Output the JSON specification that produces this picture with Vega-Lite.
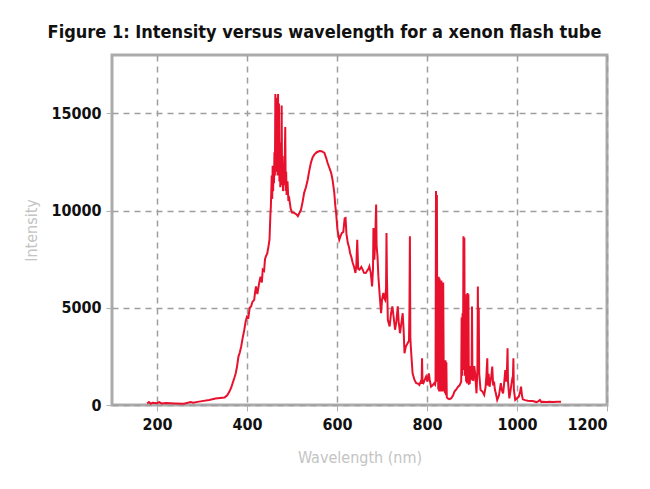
{
  "$schema": "https://vega.github.io/schema/vega-lite/v6.json",
  "width": 495,
  "height": 350,
  "autosize": {"type": "none"},
  "padding": {"left": 112, "top": 55, "right": 43, "bottom": 84},
  "background": "white",
  "title": {
    "text": "Figure 1: Intensity versus wavelength for a xenon flash tube",
    "anchor": "middle",
    "dx": -35,
    "offset": 13,
    "font": "DejaVu Sans Condensed, Roboto",
    "fontWeight": "bold",
    "fontSize": 18,
    "color": "#111111"
  },
  "data": {
    "values": [
      {"wavelength": 178, "intensity": 80}, {"wavelength": 182, "intensity": 150}, {"wavelength": 186, "intensity": 60},
      {"wavelength": 190, "intensity": 120}, {"wavelength": 200, "intensity": 90}, {"wavelength": 205, "intensity": 150},
      {"wavelength": 210, "intensity": 80}, {"wavelength": 220, "intensity": 100}, {"wavelength": 240, "intensity": 80},
      {"wavelength": 260, "intensity": 60}, {"wavelength": 275, "intensity": 150}, {"wavelength": 280, "intensity": 120},
      {"wavelength": 290, "intensity": 160}, {"wavelength": 300, "intensity": 200}, {"wavelength": 316, "intensity": 260},
      {"wavelength": 330, "intensity": 330}, {"wavelength": 350, "intensity": 380}, {"wavelength": 356, "intensity": 500},
      {"wavelength": 361, "intensity": 690}, {"wavelength": 365, "intensity": 900}, {"wavelength": 368, "intensity": 1120},
      {"wavelength": 372, "intensity": 1400}, {"wavelength": 375, "intensity": 1630}, {"wavelength": 378, "intensity": 2000},
      {"wavelength": 381, "intensity": 2490}, {"wavelength": 384, "intensity": 2700}, {"wavelength": 387, "intensity": 3000},
      {"wavelength": 390, "intensity": 3400}, {"wavelength": 394, "intensity": 3870}, {"wavelength": 397, "intensity": 4300},
      {"wavelength": 400, "intensity": 4550}, {"wavelength": 403, "intensity": 4500}, {"wavelength": 406, "intensity": 5000},
      {"wavelength": 409, "intensity": 5070}, {"wavelength": 412, "intensity": 5300}, {"wavelength": 416, "intensity": 5410},
      {"wavelength": 418, "intensity": 5800}, {"wavelength": 420, "intensity": 6100}, {"wavelength": 423, "intensity": 5700},
      {"wavelength": 427, "intensity": 6270}, {"wavelength": 430, "intensity": 6600}, {"wavelength": 433, "intensity": 6300},
      {"wavelength": 435, "intensity": 6960}, {"wavelength": 438, "intensity": 6900}, {"wavelength": 440, "intensity": 7500},
      {"wavelength": 442, "intensity": 7650}, {"wavelength": 445, "intensity": 7800}, {"wavelength": 448, "intensity": 8200},
      {"wavelength": 450, "intensity": 8500}, {"wavelength": 452, "intensity": 9800}, {"wavelength": 453, "intensity": 10200},
      {"wavelength": 455, "intensity": 11800}, {"wavelength": 456, "intensity": 10600}, {"wavelength": 457, "intensity": 12300},
      {"wavelength": 458, "intensity": 11000}, {"wavelength": 459, "intensity": 12100}, {"wavelength": 460, "intensity": 11400},
      {"wavelength": 461, "intensity": 13000}, {"wavelength": 462, "intensity": 11800}, {"wavelength": 463, "intensity": 16000},
      {"wavelength": 464, "intensity": 12200}, {"wavelength": 465, "intensity": 15800}, {"wavelength": 466, "intensity": 12000},
      {"wavelength": 467, "intensity": 14000}, {"wavelength": 468, "intensity": 11800}, {"wavelength": 469, "intensity": 16000},
      {"wavelength": 470, "intensity": 12400}, {"wavelength": 471, "intensity": 15500}, {"wavelength": 472, "intensity": 11500},
      {"wavelength": 473, "intensity": 13500}, {"wavelength": 474, "intensity": 11200}, {"wavelength": 475, "intensity": 12600},
      {"wavelength": 476, "intensity": 11400}, {"wavelength": 477, "intensity": 15400}, {"wavelength": 478, "intensity": 11300},
      {"wavelength": 479, "intensity": 12800}, {"wavelength": 480, "intensity": 11000}, {"wavelength": 481, "intensity": 12200},
      {"wavelength": 483, "intensity": 11300}, {"wavelength": 485, "intensity": 14300}, {"wavelength": 486, "intensity": 11000},
      {"wavelength": 487, "intensity": 12000}, {"wavelength": 488, "intensity": 10800}, {"wavelength": 490, "intensity": 11500},
      {"wavelength": 492, "intensity": 10500}, {"wavelength": 494, "intensity": 10600}, {"wavelength": 497, "intensity": 10100},
      {"wavelength": 500, "intensity": 9900}, {"wavelength": 505, "intensity": 9880}, {"wavelength": 510, "intensity": 9800},
      {"wavelength": 513, "intensity": 9710}, {"wavelength": 517, "intensity": 9900}, {"wavelength": 520, "intensity": 10050},
      {"wavelength": 524, "intensity": 10500}, {"wavelength": 527, "intensity": 10910}, {"wavelength": 531, "intensity": 11200},
      {"wavelength": 535, "intensity": 11600}, {"wavelength": 538, "intensity": 12000}, {"wavelength": 542, "intensity": 12460},
      {"wavelength": 546, "intensity": 12750}, {"wavelength": 550, "intensity": 12890}, {"wavelength": 555, "intensity": 13000},
      {"wavelength": 561, "intensity": 13060}, {"wavelength": 566, "intensity": 13050}, {"wavelength": 572, "intensity": 12970},
      {"wavelength": 576, "intensity": 12700}, {"wavelength": 579, "intensity": 12460}, {"wavelength": 583, "intensity": 12200},
      {"wavelength": 587, "intensity": 11940}, {"wavelength": 590, "intensity": 11600}, {"wavelength": 594, "intensity": 10910},
      {"wavelength": 596, "intensity": 10300}, {"wavelength": 598, "intensity": 9880}, {"wavelength": 601, "intensity": 9020},
      {"wavelength": 605, "intensity": 8500}, {"wavelength": 608, "intensity": 8700}, {"wavelength": 611, "intensity": 8850},
      {"wavelength": 614, "intensity": 8900}, {"wavelength": 617, "intensity": 9600}, {"wavelength": 619, "intensity": 9620},
      {"wavelength": 621, "intensity": 8800}, {"wavelength": 624, "intensity": 8330}, {"wavelength": 627, "intensity": 8100},
      {"wavelength": 629, "intensity": 7820}, {"wavelength": 632, "intensity": 7600}, {"wavelength": 635, "intensity": 7300},
      {"wavelength": 638, "intensity": 7100}, {"wavelength": 641, "intensity": 6790}, {"wavelength": 643, "intensity": 7200},
      {"wavelength": 645, "intensity": 8500}, {"wavelength": 647, "intensity": 7000}, {"wavelength": 650, "intensity": 6960},
      {"wavelength": 654, "intensity": 7100}, {"wavelength": 657, "intensity": 6960}, {"wavelength": 660, "intensity": 6800},
      {"wavelength": 664, "intensity": 6790}, {"wavelength": 667, "intensity": 6900}, {"wavelength": 670, "intensity": 7000},
      {"wavelength": 672, "intensity": 7130}, {"wavelength": 675, "intensity": 6800}, {"wavelength": 678, "intensity": 6100},
      {"wavelength": 680, "intensity": 7000}, {"wavelength": 681, "intensity": 9100}, {"wavelength": 682, "intensity": 8000},
      {"wavelength": 683, "intensity": 7470}, {"wavelength": 685, "intensity": 8500}, {"wavelength": 686, "intensity": 9500},
      {"wavelength": 687, "intensity": 10310}, {"wavelength": 688, "intensity": 8200}, {"wavelength": 690, "intensity": 7650},
      {"wavelength": 692, "intensity": 6600}, {"wavelength": 694, "intensity": 5930}, {"wavelength": 696, "intensity": 5300},
      {"wavelength": 698, "intensity": 4720}, {"wavelength": 700, "intensity": 5400}, {"wavelength": 703, "intensity": 5760},
      {"wavelength": 705, "intensity": 5500}, {"wavelength": 707, "intensity": 5410}, {"wavelength": 709, "intensity": 6000},
      {"wavelength": 710, "intensity": 8850}, {"wavelength": 711, "intensity": 6500}, {"wavelength": 713, "intensity": 4380},
      {"wavelength": 715, "intensity": 4200}, {"wavelength": 717, "intensity": 4040}, {"wavelength": 720, "intensity": 4700},
      {"wavelength": 723, "intensity": 5070}, {"wavelength": 726, "intensity": 4500}, {"wavelength": 729, "intensity": 3870},
      {"wavelength": 732, "intensity": 4300}, {"wavelength": 735, "intensity": 5070}, {"wavelength": 737, "intensity": 4300},
      {"wavelength": 740, "intensity": 3690}, {"wavelength": 743, "intensity": 4200}, {"wavelength": 746, "intensity": 4720},
      {"wavelength": 748, "intensity": 3900}, {"wavelength": 750, "intensity": 2660}, {"wavelength": 753, "intensity": 3000},
      {"wavelength": 757, "intensity": 3180}, {"wavelength": 760, "intensity": 3300}, {"wavelength": 761, "intensity": 5000},
      {"wavelength": 762, "intensity": 8680}, {"wavelength": 763, "intensity": 3500}, {"wavelength": 764, "intensity": 3010},
      {"wavelength": 766, "intensity": 2300}, {"wavelength": 768, "intensity": 1630}, {"wavelength": 772, "intensity": 1300},
      {"wavelength": 776, "intensity": 1120}, {"wavelength": 780, "intensity": 1100}, {"wavelength": 783, "intensity": 1030},
      {"wavelength": 786, "intensity": 1200}, {"wavelength": 788, "intensity": 1100}, {"wavelength": 789, "intensity": 2400},
      {"wavelength": 790, "intensity": 1150}, {"wavelength": 792, "intensity": 1120}, {"wavelength": 795, "intensity": 1300},
      {"wavelength": 798, "intensity": 1460}, {"wavelength": 801, "intensity": 1200}, {"wavelength": 804, "intensity": 1630},
      {"wavelength": 806, "intensity": 1300}, {"wavelength": 809, "intensity": 940}, {"wavelength": 812, "intensity": 1000},
      {"wavelength": 816, "intensity": 1120}, {"wavelength": 818, "intensity": 1050}, {"wavelength": 819, "intensity": 1200},
      {"wavelength": 820, "intensity": 11000}, {"wavelength": 821, "intensity": 1500}, {"wavelength": 822, "intensity": 10800},
      {"wavelength": 823, "intensity": 1200}, {"wavelength": 824, "intensity": 6600}, {"wavelength": 825, "intensity": 800},
      {"wavelength": 826, "intensity": 6600}, {"wavelength": 827, "intensity": 700}, {"wavelength": 828, "intensity": 6500},
      {"wavelength": 829, "intensity": 800}, {"wavelength": 830, "intensity": 6400}, {"wavelength": 831, "intensity": 700},
      {"wavelength": 832, "intensity": 6400}, {"wavelength": 833, "intensity": 700}, {"wavelength": 834, "intensity": 6300},
      {"wavelength": 835, "intensity": 700}, {"wavelength": 836, "intensity": 6300}, {"wavelength": 837, "intensity": 2300},
      {"wavelength": 838, "intensity": 700}, {"wavelength": 839, "intensity": 2300}, {"wavelength": 840, "intensity": 600},
      {"wavelength": 841, "intensity": 2300}, {"wavelength": 842, "intensity": 500}, {"wavelength": 843, "intensity": 2200},
      {"wavelength": 844, "intensity": 400}, {"wavelength": 846, "intensity": 340}, {"wavelength": 850, "intensity": 300},
      {"wavelength": 854, "intensity": 350}, {"wavelength": 858, "intensity": 500}, {"wavelength": 861, "intensity": 690},
      {"wavelength": 865, "intensity": 800}, {"wavelength": 869, "intensity": 940}, {"wavelength": 872, "intensity": 1000},
      {"wavelength": 876, "intensity": 1200}, {"wavelength": 877, "intensity": 4500}, {"wavelength": 878, "intensity": 1500},
      {"wavelength": 879, "intensity": 4720}, {"wavelength": 880, "intensity": 1800}, {"wavelength": 881, "intensity": 8680},
      {"wavelength": 882, "intensity": 2000}, {"wavelength": 883, "intensity": 8600}, {"wavelength": 884, "intensity": 1500},
      {"wavelength": 885, "intensity": 2320}, {"wavelength": 887, "intensity": 1200}, {"wavelength": 888, "intensity": 5700},
      {"wavelength": 889, "intensity": 1100}, {"wavelength": 890, "intensity": 5760}, {"wavelength": 891, "intensity": 1200},
      {"wavelength": 892, "intensity": 5700}, {"wavelength": 893, "intensity": 1100}, {"wavelength": 895, "intensity": 1120},
      {"wavelength": 897, "intensity": 2000}, {"wavelength": 899, "intensity": 1300}, {"wavelength": 900, "intensity": 5070},
      {"wavelength": 901, "intensity": 1300}, {"wavelength": 903, "intensity": 1290}, {"wavelength": 905, "intensity": 2000},
      {"wavelength": 907, "intensity": 1630}, {"wavelength": 910, "intensity": 600}, {"wavelength": 912, "intensity": 1800},
      {"wavelength": 913, "intensity": 6100}, {"wavelength": 914, "intensity": 2000}, {"wavelength": 915, "intensity": 5000},
      {"wavelength": 916, "intensity": 1630}, {"wavelength": 919, "intensity": 770}, {"wavelength": 923, "intensity": 700},
      {"wavelength": 927, "intensity": 520}, {"wavelength": 930, "intensity": 900}, {"wavelength": 932, "intensity": 1500},
      {"wavelength": 934, "intensity": 2400}, {"wavelength": 935, "intensity": 1000}, {"wavelength": 937, "intensity": 1600},
      {"wavelength": 939, "intensity": 940}, {"wavelength": 941, "intensity": 1200}, {"wavelength": 943, "intensity": 1500},
      {"wavelength": 945, "intensity": 1980}, {"wavelength": 947, "intensity": 1000}, {"wavelength": 949, "intensity": 1200},
      {"wavelength": 951, "intensity": 770}, {"wavelength": 953, "intensity": 600}, {"wavelength": 956, "intensity": 260},
      {"wavelength": 960, "intensity": 500}, {"wavelength": 964, "intensity": 1120}, {"wavelength": 966, "intensity": 800},
      {"wavelength": 969, "intensity": 600}, {"wavelength": 971, "intensity": 1000}, {"wavelength": 974, "intensity": 1800},
      {"wavelength": 976, "intensity": 1200}, {"wavelength": 978, "intensity": 2000}, {"wavelength": 979, "intensity": 2920},
      {"wavelength": 980, "intensity": 1200}, {"wavelength": 983, "intensity": 340}, {"wavelength": 986, "intensity": 800},
      {"wavelength": 989, "intensity": 1290}, {"wavelength": 991, "intensity": 1500}, {"wavelength": 992, "intensity": 2400},
      {"wavelength": 993, "intensity": 800}, {"wavelength": 996, "intensity": 260}, {"wavelength": 1000, "intensity": 350},
      {"wavelength": 1004, "intensity": 430}, {"wavelength": 1007, "intensity": 700}, {"wavelength": 1009, "intensity": 940},
      {"wavelength": 1011, "intensity": 500}, {"wavelength": 1013, "intensity": 290}, {"wavelength": 1018, "intensity": 250},
      {"wavelength": 1024, "intensity": 220}, {"wavelength": 1030, "intensity": 200}, {"wavelength": 1035, "intensity": 200},
      {"wavelength": 1043, "intensity": 150}, {"wavelength": 1048, "intensity": 200}, {"wavelength": 1051, "intensity": 260},
      {"wavelength": 1054, "intensity": 150}, {"wavelength": 1057, "intensity": 170}, {"wavelength": 1065, "intensity": 160},
      {"wavelength": 1072, "intensity": 170}, {"wavelength": 1080, "intensity": 160}, {"wavelength": 1090, "intensity": 170},
      {"wavelength": 1098, "intensity": 170}
    ]
  },
  "mark": {"type": "line", "color": "#e8112d", "strokeWidth": 2, "interpolate": "linear"},
  "encoding": {
    "x": {
      "field": "wavelength",
      "type": "quantitative",
      "title": "Wavelength (nm)",
      "scale": {"domain": [100, 1200], "nice": false},
      "axis": {"values": [200, 400, 600, 800, 1000, 1200], "format": "d", "titlePadding": 17}
    },
    "y": {
      "field": "intensity",
      "type": "quantitative",
      "title": "Intensity",
      "scale": {"domain": [0, 18000], "nice": false},
      "axis": {"values": [0, 5000, 10000, 15000], "format": "d", "titlePadding": 11}
    }
  },
  "config": {
    "view": {"stroke": "#ababab", "strokeWidth": 3},
    "axis": {
      "domain": false,
      "grid": true,
      "gridColor": "#9e9e9e",
      "gridDash": [6, 5],
      "gridWidth": 1.5,
      "ticks": true,
      "tickColor": "#b0b0b0",
      "tickSize": 6,
      "labelPadding": 5,
      "labelFont": "DejaVu Sans Condensed, Roboto",
      "labelFontWeight": "bold",
      "labelFontSize": 16,
      "labelColor": "#111111",
      "titleFont": "DejaVu Sans Condensed, Roboto",
      "titleFontWeight": "normal",
      "titleFontSize": 16,
      "titleColor": "#c4c4c4"
    }
  }
}
